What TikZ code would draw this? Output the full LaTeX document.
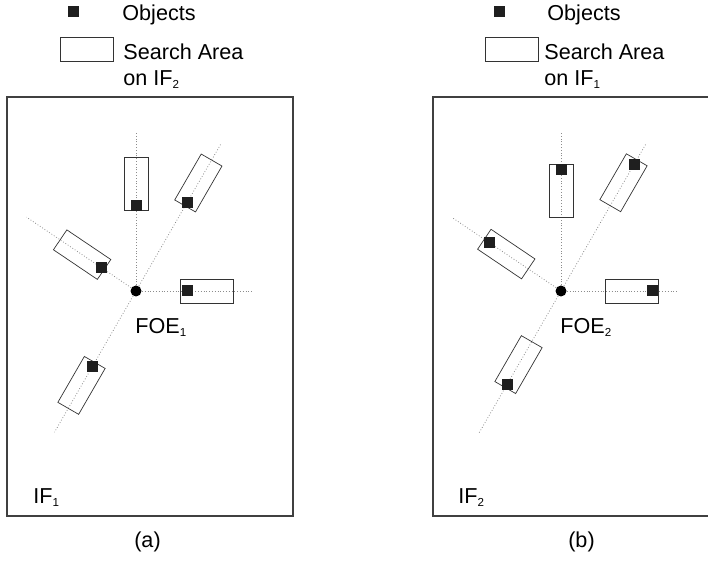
\documentclass[tikz,border=0pt]{standalone}
\usepackage{fontspec}
\setmainfont{Liberation Sans}
\usetikzlibrary{positioning}

% small lowered index, as in IF_1
\newcommand{\lowidx}[1]{\raisebox{-1.2pt}{\fontsize{5.8}{6}\selectfont #1}}

\begin{document}
\begin{tikzpicture}[x=0.5pt, y=0.5pt,
        imgframe/.style={draw=black!75, line width=0.6pt},
        ray/.style={draw=black!45, densely dotted, line width=0.4pt},
        area/.style={rectangle, draw=black!80, line width=0.35pt, minimum width=26.5pt, minimum height=12pt, inner sep=0pt},
        obj/.style={rectangle, fill=black!88, minimum size=5.5pt, inner sep=0pt},
        foe/.style={circle, fill=black, minimum size=5.5pt, inner sep=0pt},
        txt/.style={inner sep=0pt, anchor=base west, font=\fontsize{10.8}{13}\selectfont}
    ]
        \clip (0,0) rectangle (708,561);

        % Image frame 1
        \draw[imgframe] (7,45) rectangle (293,464);
        \node[obj] (a-legobj) at (73.5,549.5) {};
        \node[txt] (a-legobjtxt) at (122,540) {Objects};
        \node[area] (a-legarea) at (86.5,511.5) {};
        \node[txt] (a-legareatxt) at (123,501) {Search Area};
        \node[txt] (a-legon) at (123,475) {on IF\lowidx{2}};

        \begin{scope}[shift={(136,270)}]
            \node[foe] (foeA) at (0,0) {};
            \foreach \ang/\rl/\da/\do [count=\i] in {90/158/107.5/85, 0/116/71/51, 60/170/124.7/102.6, 146/132/65/41.7, 240/163/109/87} {
                \coordinate (a-end-\i) at (\ang:\rl);
                \draw[ray] (foeA) -- (a-end-\i);
                \node[area, rotate=\ang] (a-area-\i) at (\ang:\da) {};
                \node[obj] (a-obj-\i) at (\ang:\do) {};
            }
        \end{scope}
        \node[txt] (a-foename) at (135,227) {FOE\lowidx{1}};
        \node[txt] (a-name) at (33,57) {IF\lowidx{1}};
        \node[txt, anchor=base] (a-cap) at (147.5,13) {(a)};

        % Image frame 2
        \draw[imgframe] (433,45) rectangle (719,464);
        \node[obj] (b-legobj) at (499,549) {};
        \node[txt] (b-legobjtxt) at (547,540) {Objects};
        \node[area] (b-legarea) at (512.3,511.5) {};
        \node[txt] (b-legareatxt) at (544,501) {Search Area};
        \node[txt] (b-legon) at (544,475) {on IF\lowidx{1}};

        \begin{scope}[shift={(561,270)}]
            \node[foe] (foeB) at (0,0) {};
            \foreach \ang/\rl/\da/\do [count=\i] in {90/158/100.5/121, 0/116.7/71/91, 60/170/125/146, 146/131/66/86, 240/164/85/108} {
                \coordinate (b-end-\i) at (\ang:\rl);
                \draw[ray] (foeB) -- (b-end-\i);
                \node[area, rotate=\ang] (b-area-\i) at (\ang:\da) {};
                \node[obj] (b-obj-\i) at (\ang:\do) {};
            }
        \end{scope}
        \node[txt] (b-foename) at (560,227) {FOE\lowidx{2}};
        \node[txt] (b-name) at (458,57) {IF\lowidx{2}};
        \node[txt, anchor=base] (b-cap) at (581.5,13) {(b)};
    \end{tikzpicture}
\end{document}
